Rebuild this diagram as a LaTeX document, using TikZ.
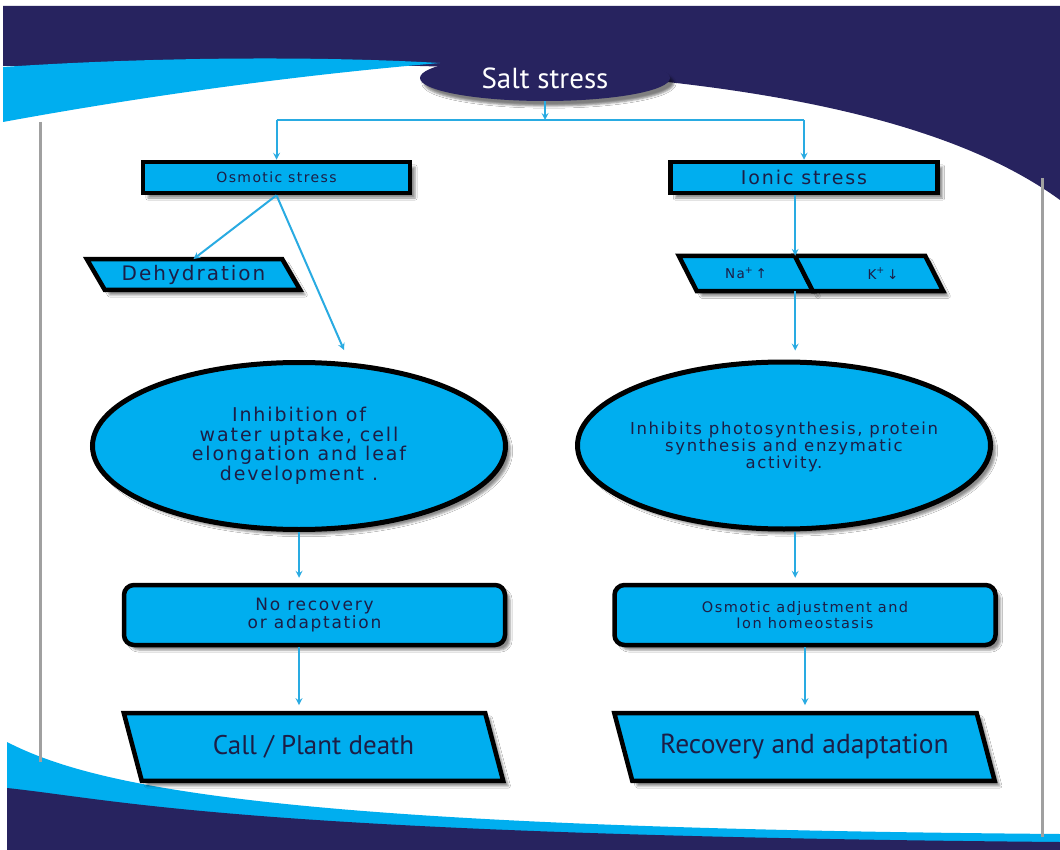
\documentclass[tikz,border=0pt]{standalone}
\usepackage{fontspec}
\setmainfont{DejaVu Sans}[LetterSpace=10]
\newfontfamily\myriad{PT Sans}
\usetikzlibrary{shapes.geometric, shadows.blur}
\definecolor{navy}{RGB}{39,35,95}
\definecolor{cyanbox}{RGB}{0,174,239}
\definecolor{linkblue}{RGB}{41,171,226}
\definecolor{inkblue}{RGB}{28,30,70}
\definecolor{rulegray}{RGB}{160,160,160}

\begin{document}
\begin{tikzpicture}[x=1pt, y=-1pt, >=stealth,
  lift/.style={blur shadow={shadow xshift=5pt, shadow yshift=-5pt, shadow opacity=45}},
  box/.style={draw=black, line width=4.5pt, fill=cyanbox, text=inkblue, inner sep=0pt, align=center, lift},
  rect/.style={box, rectangle, minimum width=267pt, minimum height=31pt},
  oval/.style={box, ellipse, line width=5pt, minimum width=413pt, minimum height=167pt},
  rbox/.style={box, rectangle, rounded corners=10pt, minimum width=381pt, minimum height=60pt},
  para/.style={rectangle, inner sep=0pt},
  paratext/.style={inner sep=0pt, text=inkblue, align=center},
  paraline/.style={draw=black, line width=4.5pt, fill=cyanbox, lift},
  link/.style={->, draw=linkblue, line width=2pt}]
  \useasboundingbox (0,0) rectangle (1060,850);

  \fill[white] (0,0) rectangle (1060,850);
  \fill[navy] (3,6) -- (1060,6) -- (1060,200) .. controls (950,120) and (750,75) .. (420,66) -- (3,66) -- cycle;
  \fill[cyanbox] (3,67) .. controls (150,57) and (320,56) .. (440,63) .. controls (300,75) and (150,95) .. (3,122) -- cycle;
  \fill[cyanbox] (7,742) .. controls (100,790) and (300,828) .. (1060,834) -- (1060,850) -- (7,850) -- cycle;
  \fill[navy] (7,788) .. controls (120,800) and (250,835) .. (1060,842) -- (1060,850) -- (7,850) -- cycle;
  \draw[rulegray, line width=3pt] (40,122) -- (40,762) (1042,178) -- (1042,837);

  \node[ellipse, fill=navy, minimum width=250pt, minimum height=46pt, text=white, font=\myriad\fontsize{29}{33}\selectfont,
    blur shadow={shadow xshift=4pt, shadow yshift=-5pt, shadow opacity=50}] (salt) at (545,78) {Salt stress};
  \coordinate (split) at (545,120);

  \node[rect, font=\fontsize{14}{16}\selectfont] (osm) at (276.5,177.5) {Osmotic stress};
  \node[rect, font=\fontsize{19}{21}\selectfont] (ion) at (804,177.5) {Ionic stress};

  \node[para, minimum width=195pt, minimum height=30.5pt] (dehy) at (193.5,274.5) {};
  \node[para, minimum width=116pt, minimum height=35pt] (na) at (746,273.5) {};
  \node[para, minimum width=130pt, minimum height=35pt] (k) at (869,273.5) {};
  \node[para, minimum width=361pt, minimum height=67.5pt] (death) at (313.5,747) {};
  \node[para, minimum width=362pt, minimum height=67.5pt] (recov) at (804.5,747) {};
  \foreach \n in {dehy, na, k, death, recov}{
    \filldraw[paraline] ([xshift=-9pt]\n.north west) -- ([xshift=-9pt]\n.north east) -- ([xshift=9pt]\n.south east) -- ([xshift=9pt]\n.south west) -- cycle;}
  \node[paratext, font=\fontsize{20}{22}\selectfont] (dehytext) at (dehy) {Dehydration};
  \node[paratext, font=\fontsize{13.5}{15}\selectfont] (natext) at (na) {Na\textsuperscript{+}\,↑};
  \node[paratext, font=\fontsize{13.5}{15}\selectfont] (ktext) at ([xshift=14pt]k.center) {K\textsuperscript{+}\,↓};
  \node[paratext, font=\myriad\fontsize{27}{30}\selectfont] (deathtext) at (death) {Call / Plant death};
  \node[paratext, font=\myriad\fontsize{27.5}{30}\selectfont] (recovtext) at (recov) {Recovery and adaptation};
  \coordinate (nk) at ([xshift=-9pt]na.north east);

  \node[oval] (inh) at (299,446) {};
  \node[oval] (photo) at (784,445.5) {};
  \node[paratext, font=\fontsize{19}{19.5}\selectfont] (inhtext) at (inh) {Inhibition of\\water uptake, cell\\elongation and leaf\\development .};
  \node[paratext, font=\fontsize{16.5}{17}\selectfont] (phototext) at ([yshift=-1pt]photo.center) {Inhibits photosynthesis, protein\\synthesis and enzymatic\\activity.};

  \node[rbox, font=\fontsize{17}{18}\selectfont] (norec) at (314.5,615) {No recovery\\or adaptation};
  \node[rbox, font=\fontsize{14.5}{15.5}\selectfont] (adj) at (805,615) {Osmotic adjustment and\\Ion homeostasis};

  \coordinate (inhtip) at (344,350);
  \draw[link] (salt) -- (split);
  \draw[linkblue, line width=2pt] (osm.north |- split) -- (ion.north |- split);
  \foreach \n in {osm, ion}{\draw[link] (\n.north |- split) -- (\n.north);}
  \draw[link] (osm.south) -- (dehy.north);
  \draw[link] (osm.south) -- (inhtip);
  \draw[link] (nk |- ion.south) -- (nk);
  \draw[link, shorten >=9pt] (nk |- na.south) -- (nk |- photo.north);
  \draw[link, shorten >=5pt] (inh.south) -- (inh.south |- norec.north);
  \draw[link, shorten >=5pt] (nk |- photo.south) -- (nk |- adj.north);
  \draw[link, shorten >=8pt] (norec.south -| inh.south) -- (death.north -| inh.south);
  \draw[link, shorten >=8pt] (adj.south) -- (recov.north -| adj.south);
\end{tikzpicture}
\end{document}
